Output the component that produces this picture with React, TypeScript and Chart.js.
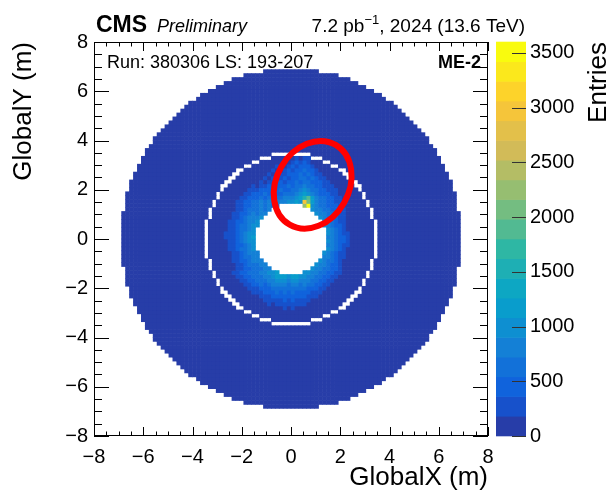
import React, { useEffect, useRef } from 'react';
import { Chart, registerables } from 'chart.js';

Chart.register(...registerables);

// ---------------- data ----------------
const AXIS_MIN = -8;
const AXIS_MAX = 8;
const N_BINS = 100; // 0.16 m bins
const AXIS_TICKS = [-8, -6, -4, -2, 0, 2, 4, 6, 8];
const MINOR_STEP = 0.5;
const Z_MAX = 3600;
const Z_TICKS = [0, 500, 1000, 1500, 2000, 2500, 3000, 3500];
const Z_BAND = 180; // 20 colour contours
const N_BANDS = 20;

// geometry of the occupied annulus (m)
const OUTER_RADIUS = 6.9;
const GAP_RADII = [3.38, 3.54];

// central region: bins 29..70 in x and y, rows listed top (y=+3.28) to bottom (y=-3.28)
// characters: contour band (0-9, a-j), '.' = empty bin
const CORE_FIRST_BIN = 29;
const CORE_ROWS = [
  '000000 000000 000000 000010 110000 000000 000000',
  '000000 000000 000000 000121 210000 000000 000000',
  '000000 000000 000001 001212 221000 000000 000000',
  '000000 000000 000010 012122 322100 000000 000000',
  '000000 000000 000101 112223 232110 000000 000000',
  '000000 000000 001011 121223 323211 000000 000000',
  '000000 000000 010112 212232 332221 100000 000000',
  '000000 000001 011212 223233 433221 110000 000000',
  '000000 000011 122222 322334 543322 111000 000000',
  '000000 000112 223232 233345 654322 211000 000000',
  '000000 001122 232343 344456 8a6433 221100 000000',
  '000000 011223 343434 445565 gb6433 221100 000000',
  '000000 011223 343433 ...... cj5433 222100 000000',
  '000000 011233 3434.. ...... ..5443 322110 000000',
  '000000 112234 344... ...... ...544 332110 000000',
  '000000 112344 45.... ...... ....54 332110 000000',
  '000001 122344 5..... ...... .....5 432110 000000',
  '000001 123345 5..... ...... .....5 432210 000000',
  '000001 123345 ...... ...... ...... 543210 000000',
  '000011 123455 ...... ...... ...... 543211 000000',
  '000011 123456 ...... ...... ...... 443221 000000',
  '000001 123455 ...... ...... ...... 543221 000000',
  '000001 122345 ...... ...... ...... 443211 000000',
  '000001 123345 ...... ...... ...... 543210 000000',
  '000000 112344 4..... ...... .....5 432110 000000',
  '000000 112334 4..... ...... .....4 432110 000000',
  '000000 112234 44.... ...... ....54 332100 000000',
  '000000 011233 344... ...... ...544 322100 000000',
  '000000 011223 3344.. ...... ..5443 322100 000000',
  '000000 112233 344556 ...... 554433 221100 000000',
  '000000 011223 334456 665665 544332 211000 000000',
  '000000 001122 333445 554554 443322 110000 000000',
  '000000 000112 232344 443443 433221 100000 000000',
  '000000 000011 122233 333333 322211 000000 000000',
  '000000 000001 112223 232322 221110 000000 000000',
  '000000 000000 011122 222222 211100 000000 000000',
  '000000 000000 001111 121211 110000 000000 000000',
  '000000 000000 000101 111111 100000 000000 000000',
  '000000 000000 000000 010100 000000 000000 000000',
  '000000 000000 000000 000000 000000 000000 000000',
  '000000 000000 000000 000000 000000 000000 000000',
  '000000 000000 000000 000000 000000 000000 000000',
];

// red annotation ellipse (data units)
const ELLIPSE = { cx: 0.88, cy: 2.2, a: 1.87, b: 1.47, angleDeg: 60 };

// texts
const X_TITLE = 'GlobalX (m)';
const Y_TITLE = 'GlobalY (m)';
const Z_TITLE = 'Entries';
const RUN_TEXT = 'Run: 380306 LS: 193-207';
const STATION_TEXT = 'ME-2';

// ---------------- style ----------------
const FONT = "'Liberation Sans', Arial, Helvetica, sans-serif";
const BIRD = [
  [53, 42, 135], [15, 92, 221], [20, 129, 214], [6, 164, 202], [46, 183, 164],
  [135, 191, 119], [209, 187, 89], [254, 200, 50], [249, 251, 14],
];

function bandColor(k: number): string {
  const idx = Math.floor((k + 0.99) * 255 / N_BANDS);
  const t = Math.min(1, idx / 254) * (BIRD.length - 1);
  const i = Math.min(BIRD.length - 2, Math.floor(t));
  const f = t - i;
  const c = BIRD[i].map((v, n) => Math.round(v + (BIRD[i + 1][n] - v) * f));
  return `rgb(${c[0]},${c[1]},${c[2]})`;
}
const BAND_COLORS = Array.from({ length: N_BANDS }, (_, k) => bandColor(k));

function buildCells() {
  const rows = CORE_ROWS.map((r) => r.replace(/ /g, ''));
  const w = (AXIS_MAX - AXIS_MIN) / N_BINS;
  const cells: { x: number; y: number; v: number }[] = [];
  for (let j = 0; j < N_BINS; j++) {
    for (let i = 0; i < N_BINS; i++) {
      const x = AXIS_MIN + (i + 0.5) * w;
      const y = AXIS_MIN + (j + 0.5) * w;
      const r = Math.hypot(x, y);
      if (r >= OUTER_RADIUS) continue;
      if (r > GAP_RADII[0] && r < GAP_RADII[1]) continue;
      let band = 0;
      const ci = i - CORE_FIRST_BIN;
      const cj = CORE_FIRST_BIN + rows.length - 1 - j;
      if (ci >= 0 && ci < rows[0].length && cj >= 0 && cj < rows.length) {
        const ch = rows[cj][ci];
        if (ch === '.') continue;
        band = parseInt(ch, 36);
      }
      cells.push({ x, y, v: (band + 0.5) * Z_BAND });
    }
  }
  return cells;
}

const minus = (v: number) => (v < 0 ? '\u2212' + Math.abs(v) : String(v));

const X_MAJOR_LEN = 9;
const X_MINOR_LEN = 4.5;
const Y_MAJOR_LEN = 15;
const Y_MINOR_LEN = 8;

const decorPlugin = {
  id: 'decor',
  afterDatasetsDraw(chart: any) {
    const { ctx, chartArea: a, scales } = chart;
    const sx = scales.x, sy = scales.y, sz = scales.z;
    ctx.save();
    // ellipse annotation
    const pxX = Math.abs(sx.getPixelForValue(1) - sx.getPixelForValue(0));
    const pxY = Math.abs(sy.getPixelForValue(1) - sy.getPixelForValue(0));
    ctx.beginPath();
    ctx.ellipse(
      sx.getPixelForValue(ELLIPSE.cx), sy.getPixelForValue(ELLIPSE.cy),
      ELLIPSE.a * pxX, ELLIPSE.b * pxY, -ELLIPSE.angleDeg * Math.PI / 180, 0, Math.PI * 2,
    );
    ctx.strokeStyle = 'rgb(255,0,0)';
    ctx.lineWidth = 6;
    ctx.stroke();

    // frame
    ctx.strokeStyle = '#000';
    ctx.lineWidth = 1;
    ctx.strokeRect(a.left + 0.5, a.top + 0.5, a.right - a.left - 1, a.bottom - a.top - 1);
    const nMinor = Math.round((AXIS_MAX - AXIS_MIN) / MINOR_STEP);
    const per = Math.round((AXIS_TICKS[1] - AXIS_TICKS[0]) / MINOR_STEP);
    ctx.beginPath();
    for (let k = 0; k <= nMinor; k++) {
      const v = AXIS_MIN + k * MINOR_STEP;
      const major = k % per === 0;
      const lx = major ? X_MAJOR_LEN : X_MINOR_LEN;
      const ly = major ? Y_MAJOR_LEN : Y_MINOR_LEN;
      const px = Math.round(sx.getPixelForValue(v)) + 0.5;
      ctx.moveTo(px, a.bottom); ctx.lineTo(px, a.bottom - lx);
      ctx.moveTo(px, a.top); ctx.lineTo(px, a.top + lx);
      const py = Math.round(sy.getPixelForValue(v)) + 0.5;
      ctx.moveTo(a.left, py); ctx.lineTo(a.left + ly, py);
      ctx.moveTo(a.right, py); ctx.lineTo(a.right - ly, py);
    }
    ctx.stroke();

    // colour bar
    const bx = a.right + 8, bw = 30;
    for (let k = 0; k < N_BANDS; k++) {
      const y1 = sz.getPixelForValue(k * Z_BAND);
      const y2 = sz.getPixelForValue((k + 1) * Z_BAND);
      ctx.fillStyle = BAND_COLORS[k];
      ctx.fillRect(bx, Math.min(y1, y2) - 0.3, bw, Math.abs(y2 - y1) + 0.6);
    }
    ctx.strokeStyle = '#333';
    ctx.beginPath();
    for (const v of Z_TICKS) {
      const py = Math.round(sz.getPixelForValue(v)) + 0.5;
      ctx.moveTo(bx + bw, py); ctx.lineTo(bx + bw - 14, py);
    }
    ctx.stroke();

    // texts
    ctx.fillStyle = '#000';
    ctx.textBaseline = 'alphabetic';
    ctx.textAlign = 'left';
    ctx.font = `bold 23px ${FONT}`;
    ctx.fillText('CMS', a.left + 2, 32);
    ctx.font = `italic 18px ${FONT}`;
    ctx.fillText('Preliminary', a.left + 63, 32);

    const parts: [string, string, number][] = [
      ['7.2 pb', `19px ${FONT}`, 0],
      ['\u22121', `13px ${FONT}`, -8],
      [', 2024 (13.6 TeV)', `19px ${FONT}`, 0],
    ];
    let total = 0;
    for (const [t, f] of parts) { ctx.font = f; total += ctx.measureText(t).width; }
    let x = 525 - total;
    for (const [t, f, dy] of parts) {
      ctx.font = f; ctx.fillText(t, x, 32 + dy); x += ctx.measureText(t).width;
    }

    ctx.font = `18px ${FONT}`;
    ctx.fillText(RUN_TEXT, a.left + 13, 68);
    ctx.font = `bold 18px ${FONT}`;
    ctx.textAlign = 'right';
    ctx.fillText(STATION_TEXT, a.right - 7, 68);

    ctx.save();
    ctx.translate(606, a.top);
    ctx.rotate(-Math.PI / 2);
    ctx.font = `26px ${FONT}`;
    ctx.textAlign = 'right';
    ctx.fillText(Z_TITLE, 0, 0);
    ctx.restore();

    ctx.restore();
  },
};

const noPadV = (s: any) => { s.paddingTop = 0; s.paddingBottom = 0; };
const noPadH = (s: any) => { s.paddingLeft = 0; s.paddingRight = 0; };

export default function App() {
  const ref = useRef<HTMLCanvasElement | null>(null);
  useEffect(() => {
    if (!ref.current) return;
    const cells = buildCells();
    const binW = (AXIS_MAX - AXIS_MIN) / N_BINS;
    const tickFont = { family: FONT, size: 20 };
    const chart = new Chart(ref.current, {
      type: 'scatter',
      data: {
        datasets: [
          {
            data: cells as any,
            pointStyle: 'rect',
            borderWidth: 0,
            pointRadius: (c: any) => {
              const s = c.chart.scales.x;
              const px = Math.abs(s.getPixelForValue(binW) - s.getPixelForValue(0));
              return (px + 0.6) / Math.SQRT2;
            },
            backgroundColor: (c: any) =>
              BAND_COLORS[Math.max(0, Math.min(N_BANDS - 1, Math.floor((c.raw?.v ?? 0) / Z_BAND)))],
          } as any,
        ],
      },
      options: {
        animation: false,
        responsive: false,
        events: [],
        layout: { padding: { top: 42, left: 0, right: 0, bottom: 0 } },
        plugins: { legend: { display: false }, tooltip: { enabled: false } },
        scales: {
          x: {
            type: 'linear', min: AXIS_MIN, max: AXIS_MAX,
            afterBuildTicks: (s: any) => { s.ticks = AXIS_TICKS.map((v) => ({ value: v })); },
            grid: { display: false, drawTicks: false },
            border: { display: false },
            ticks: { font: tickFont, color: '#000', padding: 9, maxRotation: 0, autoSkip: false, callback: (v: any) => minus(Number(v)) },
            title: { display: true, text: X_TITLE, align: 'end', color: '#000', font: { family: FONT, size: 26 }, padding: { top: 0, bottom: 2 } },
            afterFit: (s: any) => { s.height = 59; noPadH(s); },
          },
          y: {
            type: 'linear', min: AXIS_MIN, max: AXIS_MAX,
            afterBuildTicks: (s: any) => { s.ticks = AXIS_TICKS.map((v) => ({ value: v })); },
            grid: { display: false, drawTicks: false },
            border: { display: false },
            ticks: { font: tickFont, color: '#000', padding: 6, autoSkip: false, callback: (v: any) => minus(Number(v)) },
            title: { display: true, text: Y_TITLE, align: 'end', color: '#000', font: { family: FONT, size: 26 }, padding: { top: 8, bottom: 0 } },
            afterFit: (s: any) => { s.width = 94; noPadV(s); },
          },
          z: {
            type: 'linear', axis: 'y', position: 'right', min: 0, max: Z_MAX,
            afterBuildTicks: (s: any) => { s.ticks = Z_TICKS.map((v) => ({ value: v })); },
            grid: { display: false, drawTicks: false },
            border: { display: false },
            ticks: { font: tickFont, color: '#000', padding: 42, autoSkip: false, callback: (v: any) => String(v) },
            afterFit: (s: any) => { s.width = 120; noPadV(s); },
          } as any,
        },
      },
      plugins: [decorPlugin],
    });
    return () => chart.destroy();
  }, []);
  return (
    <div style={{ position: 'fixed', left: 0, top: 0, width: 608, height: 495, background: '#fff' }}>
      <canvas ref={ref} width={608} height={495} style={{ display: 'block', width: 608, height: 495 }} />
    </div>
  );
}
